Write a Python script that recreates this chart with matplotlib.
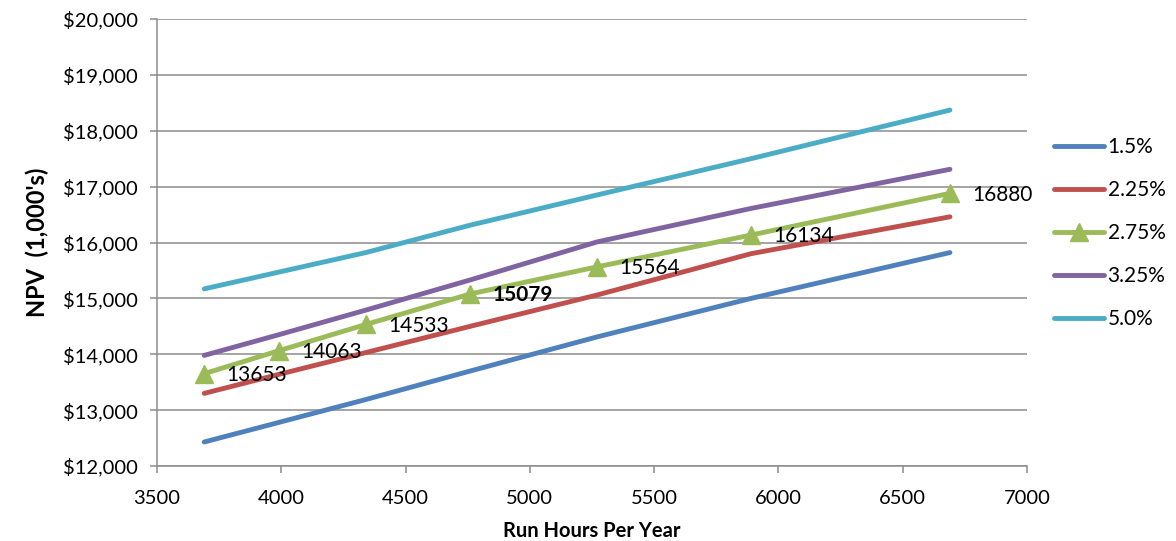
import matplotlib
matplotlib.use("Agg")
import matplotlib.pyplot as plt
from matplotlib.ticker import FuncFormatter, MultipleLocator

plt.rcParams['font.family'] = ['Lato', 'DejaVu Sans']

# run hours per year (x) and NPV in $1,000's for each rate
hours = [3690, 3990, 4340, 4760, 5270, 5890, 6690]
npv_150 = [12430, 12780, 13190, 13700, 14310, 15000, 15820]
npv_225 = [13300, 13640, 14030, 14500, 15060, 15800, 16460]
npv_275 = [13653, 14063, 14533, 15079, 15564, 16134, 16880]
npv_325 = [13980, 14350, 14790, 15330, 16010, 16610, 17310]
npv_500 = [15170, 15470, 15820, 16310, 16850, 17500, 18370]
labels = ["1.5%", "2.25%", "2.75%", "3.25%", "5.0%"]
colors = ["#4F81BD", "#C0504D", "#9BBB59", "#8064A2", "#4BACC6"]
bold_label = 15079

fig = plt.figure(figsize=(11.76, 5.41), dpi=100)
ax = fig.add_axes([0.1335, 0.1386, 0.7398, 0.8263])

series = [npv_150, npv_225, npv_275, npv_325, npv_500]
for vals, lab, col in zip(series, labels, colors):
    if lab == "2.75%":
        ax.plot(hours, vals, color=col, lw=3.5, marker="^", markersize=13,
                label=lab, solid_capstyle="round", zorder=3)
    else:
        ax.plot(hours, vals, color=col, lw=3.5, label=lab,
                solid_capstyle="round", zorder=3)

# data labels for the 2.75% line
for x, y in zip(hours, npv_275):
    ax.annotate(str(y), (x, y), xytext=(16, -1), textcoords="offset points",
                ha="left", va="center", fontsize=15,
                fontweight="bold" if y == bold_label else "normal")

ax.set_xlim(3500, 7000)
ax.set_ylim(12000, 20000)
ax.xaxis.set_major_locator(MultipleLocator(500))
ax.yaxis.set_major_locator(MultipleLocator(1000))
ax.yaxis.set_major_formatter(FuncFormatter(lambda v, p: "${:,.0f}".format(v)))

ax.grid(axis="y", color="#8C8C8C", lw=1.1)
ax.set_axisbelow(True)
for s in ["top", "right"]:
    ax.spines[s].set_visible(False)
for s in ["left", "bottom"]:
    ax.spines[s].set_color("#8C8C8C")
    ax.spines[s].set_linewidth(1.1)
ax.tick_params(colors="#8C8C8C", labelcolor="black", labelsize=14.5,
               direction="out", length=5, width=1.1)
ax.tick_params(axis="x", pad=12)
ax.tick_params(axis="y", pad=9)

ax.set_xlabel("Run Hours Per Year", fontsize=14.5, fontweight="bold", labelpad=10)
ax.set_ylabel("NPV  (1,000's)", fontsize=17, fontweight="bold", labelpad=10)

leg = ax.legend(loc="center left", bbox_to_anchor=(1.022, 0.521), frameon=False,
                fontsize=15, handlelength=2.4, handletextpad=0.15,
                labelspacing=1.1, borderaxespad=0)

fig.savefig("out.png", dpi=100)
